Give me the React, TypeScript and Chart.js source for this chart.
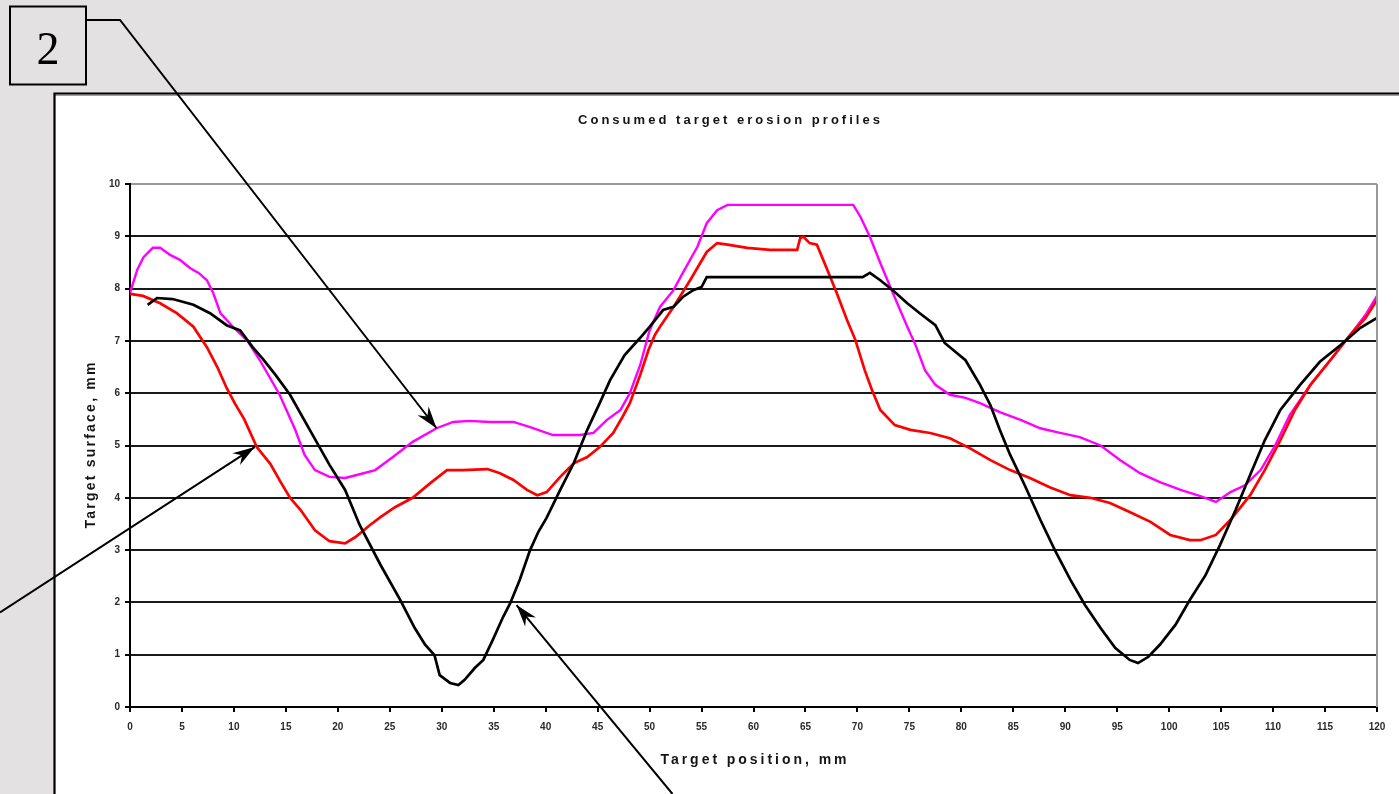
import React, { useEffect, useRef } from "react";
import { Chart, registerables } from "chart.js";

Chart.register(...registerables);

// ---------- data ----------
const chartTitle = "Consumed target erosion profiles";
const xAxisTitle = "Target position, mm";
const yAxisTitle = "Target surface, mm";
const calloutLabel = "2";

const xMin = 0;
const xMax = 120;
const xStep = 5;
const yMin = 0;
const yMax = 10;
const yStep = 1;

const magentaX = [0, 0.7, 1.3, 2.2, 2.9, 3.9, 4.8, 5.8, 6.6, 7.4, 8, 8.7, 9.9, 11.3, 12.5, 14.4, 15.9, 16.8, 17.8, 19.2, 20.7, 22.1, 23.6, 25.3, 27.2, 29.5, 31.1, 32.7, 34.6, 36.9, 38.5, 40.7, 43.3, 44.6, 45.9, 47.2, 48.1, 49.1, 50, 51, 52.3, 53.2, 54.6, 55.5, 56.5, 57.5, 69.6, 70.3, 71.2, 72.2, 73.4, 74.8, 75.6, 76.5, 77.5, 78.9, 80.4, 81.8, 83.7, 85.7, 87.6, 89.5, 91.4, 93.4, 95.3, 97.2, 99.1, 101.1, 103, 104.5, 105.9, 107.3, 108.8, 110.2, 111.6, 113.6, 115.5, 117.4, 118.9, 120];
const magentaY = [7.92, 8.36, 8.6, 8.78, 8.78, 8.64, 8.55, 8.39, 8.3, 8.16, 7.92, 7.53, 7.27, 7.0, 6.63, 5.97, 5.3, 4.82, 4.53, 4.4, 4.38, 4.45, 4.53, 4.78, 5.07, 5.33, 5.45, 5.47, 5.45, 5.45, 5.35, 5.2, 5.2, 5.24, 5.49, 5.68, 6.0, 6.54, 7.2, 7.65, 7.97, 8.3, 8.8, 9.25, 9.5, 9.6, 9.6, 9.37, 8.99, 8.49, 7.92, 7.27, 6.92, 6.44, 6.16, 5.97, 5.91, 5.81, 5.64, 5.49, 5.33, 5.24, 5.16, 5.0, 4.72, 4.47, 4.3, 4.15, 4.03, 3.92, 4.11, 4.24, 4.53, 5.0, 5.58, 6.16, 6.63, 7.11, 7.5, 7.86];

const redX = [0, 1.25, 2.9, 4.5, 6.1, 7.4, 8.4, 9.3, 10.1, 11, 12.2, 13.5, 14.5, 15.4, 16.4, 17.8, 19.2, 20.7, 21.7, 23.1, 24.1, 25.5, 27.2, 28.9, 30.5, 32, 34.4, 35.6, 36.9, 38.2, 39.2, 40.1, 41.4, 42.7, 44, 45.2, 46.5, 47.4, 48.1, 49.1, 49.9, 50.5, 51, 52.3, 53.9, 55.5, 56.5, 57.5, 59.4, 61.6, 64.2, 64.5, 64.8, 65.4, 66.1, 67.1, 68, 69, 69.8, 70.7, 71.4, 72.2, 73.6, 75.1, 77, 78.9, 80.8, 82.8, 84.7, 86.6, 88.5, 90.5, 92.4, 94.3, 96.2, 98.2, 100.1, 102, 103, 104.5, 105.9, 107.8, 109.2, 110.7, 112.1, 113.6, 115.5, 117.4, 118.9, 120];
const redY = [7.9, 7.86, 7.72, 7.53, 7.27, 6.88, 6.5, 6.1, 5.8, 5.5, 4.97, 4.65, 4.3, 4.0, 3.77, 3.38, 3.17, 3.13, 3.25, 3.48, 3.63, 3.82, 4.0, 4.28, 4.53, 4.53, 4.55, 4.47, 4.34, 4.15, 4.05, 4.11, 4.4, 4.66, 4.78, 4.97, 5.24, 5.55, 5.81, 6.35, 6.83, 7.11, 7.27, 7.65, 8.16, 8.7, 8.87, 8.84, 8.78, 8.74, 8.74, 8.97, 8.99, 8.87, 8.84, 8.36, 7.92, 7.4, 7.02, 6.44, 6.06, 5.68, 5.39, 5.3, 5.24, 5.14, 4.95, 4.72, 4.53, 4.38, 4.2, 4.05, 4.0, 3.9, 3.73, 3.54, 3.29, 3.19, 3.19, 3.29, 3.58, 4.05, 4.53, 5.1, 5.68, 6.16, 6.63, 7.11, 7.44, 7.78];

const blackX = [1.7, 2.6, 4.1, 6.1, 7.7, 9.3, 10.6, 11.8, 12.8, 14, 15.4, 17.3, 19.2, 20.7, 22.1, 24.1, 26, 27.4, 28.4, 29.3, 29.8, 30.8, 31.6, 32.2, 33.2, 34, 34.9, 35.9, 36.6, 37.5, 38.5, 39.3, 40.1, 41.4, 42.7, 44, 45.2, 46.2, 47.6, 49.1, 50, 51.3, 52.3, 53.2, 54.2, 55, 55.5, 61.9, 70.5, 71.2, 72.2, 73.4, 74.8, 76, 77.5, 78.4, 80.4, 81.8, 82.8, 83.7, 84.7, 86.1, 87.6, 89, 90.5, 91.9, 93.4, 94.8, 96.2, 97, 98, 99.1, 100.6, 102, 103.5, 104.9, 106.4, 107.8, 109.2, 110.7, 112.6, 114.5, 116.5, 118.4, 120];
const blackY = [7.69, 7.82, 7.8, 7.69, 7.53, 7.3, 7.2, 6.88, 6.65, 6.35, 5.97, 5.3, 4.63, 4.15, 3.48, 2.72, 2.05, 1.51, 1.19, 0.99, 0.61, 0.46, 0.42, 0.52, 0.75, 0.9, 1.28, 1.72, 1.99, 2.43, 3.0, 3.35, 3.62, 4.15, 4.66, 5.3, 5.81, 6.25, 6.73, 7.06, 7.27, 7.59, 7.65, 7.84, 7.97, 8.03, 8.22, 8.22, 8.22, 8.3, 8.16, 7.97, 7.72, 7.53, 7.3, 6.96, 6.63, 6.16, 5.77, 5.3, 4.82, 4.24, 3.58, 3.0, 2.43, 1.95, 1.51, 1.13, 0.9, 0.84, 0.96, 1.19, 1.57, 2.05, 2.52, 3.1, 3.77, 4.44, 5.1, 5.68, 6.16, 6.6, 6.92, 7.25, 7.44];

// arrow tips (data coordinates) for the three call-out arrows
const arrowTipX = [29.5, 12.0, 37.2];
const arrowTipY = [5.33, 4.97, 1.95];

// ---------- helpers ----------
const toPoints = (xs: number[], ys: number[]) => xs.map((x, i) => ({ x, y: ys[i] }));

function spacedText(
  ctx: CanvasRenderingContext2D,
  text: string,
  cx: number,
  baselineY: number,
  targetWidth: number
) {
  const c: any = ctx;
  c.letterSpacing = "0px";
  const w = ctx.measureText(text).width;
  const n = text.length;
  const s = n > 1 ? (targetWidth - w) / (n - 1) : 0;
  c.letterSpacing = s + "px";
  ctx.textAlign = "left";
  ctx.textBaseline = "alphabetic";
  ctx.fillText(text, cx - targetWidth / 2, baselineY);
  c.letterSpacing = "0px";
}

function arrowHead(ctx: CanvasRenderingContext2D, tipX: number, tipY: number, fromX: number, fromY: number) {
  const ang = Math.atan2(tipY - fromY, tipX - fromX);
  const L = 22;
  const W = 7;
  const N = 15;
  ctx.save();
  ctx.translate(tipX, tipY);
  ctx.rotate(ang);
  ctx.beginPath();
  ctx.moveTo(0, 0);
  ctx.lineTo(-L, -W);
  ctx.lineTo(-N, 0);
  ctx.lineTo(-L, W);
  ctx.closePath();
  ctx.fill();
  ctx.restore();
}

const decorPlugin = {
  id: "decor",
  beforeDraw(chart: any) {
    const ctx: CanvasRenderingContext2D = chart.ctx;
    const { width, height } = chart;
    ctx.save();
    ctx.fillStyle = "#e4e1e2";
    ctx.fillRect(0, 0, width, height);
    ctx.fillStyle = "#ffffff";
    ctx.fillRect(54, 93, width - 54, height - 93);
    ctx.strokeStyle = "#a0a0a0";
    ctx.lineWidth = 1.5;
    ctx.beginPath();
    ctx.moveTo(55, 95.3);
    ctx.lineTo(width, 95.3);
    ctx.stroke();
    ctx.strokeStyle = "#000000";
    ctx.lineWidth = 2.2;
    ctx.beginPath();
    ctx.moveTo(54.5, height);
    ctx.lineTo(54.5, 93.5);
    ctx.lineTo(width, 93.5);
    ctx.stroke();
    ctx.restore();
  },
  afterDraw(chart: any) {
    const ctx: CanvasRenderingContext2D = chart.ctx;
    const area = chart.chartArea;
    const xs = chart.scales.x;
    const ys = chart.scales.y;
    ctx.save();

    // plot frame (right side, grey)
    ctx.strokeStyle = "#9a9a9a";
    ctx.lineWidth = 2;
    ctx.beginPath();
    ctx.moveTo(area.right, area.top);
    ctx.lineTo(area.right, area.bottom);
    ctx.stroke();

    // titles
    ctx.fillStyle = "#141414";
    ctx.font = 'bold 13px "Liberation Sans", Arial, sans-serif';
    spacedText(ctx, chartTitle, 729, 124, 302);

    ctx.font = 'bold 14px "Liberation Sans", Arial, sans-serif';
    spacedText(ctx, xAxisTitle, (area.left + area.right) / 2, 764, 186);

    ctx.save();
    ctx.translate(95, (area.top + area.bottom) / 2);
    ctx.rotate(-Math.PI / 2);
    spacedText(ctx, yAxisTitle, 0, 0, 166);
    ctx.restore();

    // call-out box
    ctx.strokeStyle = "#000";
    ctx.lineWidth = 2;
    ctx.strokeRect(10, 6.5, 76, 78);
    ctx.fillStyle = "#000";
    ctx.font = '46px "Liberation Serif", "Times New Roman", serif';
    ctx.textAlign = "center";
    ctx.textBaseline = "alphabetic";
    ctx.fillText(calloutLabel, 48, 63.5);

    // arrows
    const tips = arrowTipX.map((v, i) => ({
      x: xs.getPixelForValue(v),
      y: ys.getPixelForValue(arrowTipY[i]),
    }));
    ctx.lineWidth = 2;
    ctx.strokeStyle = "#000";
    ctx.fillStyle = "#000";

    // arrow 1 : from the call-out box
    ctx.beginPath();
    ctx.moveTo(87, 20);
    ctx.lineTo(120, 20);
    ctx.lineTo(tips[0].x, tips[0].y);
    ctx.stroke();
    arrowHead(ctx, tips[0].x, tips[0].y, 120, 20);

    // arrow 2 : from the left edge
    ctx.beginPath();
    ctx.moveTo(0, 612.5);
    ctx.lineTo(tips[1].x, tips[1].y);
    ctx.stroke();
    arrowHead(ctx, tips[1].x, tips[1].y, 0, 612.5);

    // arrow 3 : from the bottom edge
    ctx.beginPath();
    ctx.moveTo(672.5, 794);
    ctx.lineTo(tips[2].x, tips[2].y);
    ctx.stroke();
    arrowHead(ctx, tips[2].x, tips[2].y, 672.5, 794);

    ctx.restore();
  },
};

export default function App() {
  const canvasRef = useRef<HTMLCanvasElement | null>(null);

  useEffect(() => {
    const canvas = canvasRef.current;
    if (!canvas) return;
    const tickFont = { family: '"Liberation Sans", Arial, sans-serif', size: 10, weight: "bold" as const };
    const chart = new Chart(canvas, {
      type: "line",
      data: {
        datasets: [
          {
            label: "black",
            data: toPoints(blackX, blackY),
            borderColor: "#000000",
            borderWidth: 2.7,
            pointRadius: 0,
            tension: 0,
            fill: false,
          },
          {
            label: "red",
            data: toPoints(redX, redY),
            borderColor: "#ff0000",
            borderWidth: 2.7,
            pointRadius: 0,
            tension: 0,
            fill: false,
          },
          {
            label: "magenta",
            data: toPoints(magentaX, magentaY),
            borderColor: "#ff00ff",
            borderWidth: 2.4,
            pointRadius: 0,
            tension: 0,
            fill: false,
          },
        ],
      },
      options: {
        responsive: false,
        animation: false,
        devicePixelRatio: 1,
        layout: { padding: { top: 184, right: 22, bottom: 0, left: 0 } },
        plugins: {
          legend: { display: false },
          tooltip: { enabled: false },
          title: { display: false },
        },
        scales: {
          x: {
            type: "linear",
            min: xMin,
            max: xMax,
            afterFit: (scale: any) => {
              scale.height = 87;
            },
            ticks: {
              stepSize: xStep,
              autoSkip: false,
              maxRotation: 0,
              padding: 9,
              color: "#2a2a2a",
              font: tickFont,
            },
            grid: {
              drawOnChartArea: false,
              drawTicks: true,
              tickLength: 5,
              color: "#000",
              lineWidth: 2,
            },
            border: { color: "#000", width: 2 },
          },
          y: {
            type: "linear",
            min: yMin,
            max: yMax,
            afterFit: (scale: any) => {
              scale.width = 130;
            },
            ticks: {
              stepSize: yStep,
              padding: 5,
              color: "#2a2a2a",
              font: tickFont,
            },
            grid: {
              color: (c: any) => (c.tick && c.tick.value === yMax ? "#9a9a9a" : "#1a1a1a"),
              lineWidth: 2,
              tickLength: 5,
              tickColor: "#000",
            },
            border: { color: "#000", width: 2 },
          },
        },
      },
      plugins: [decorPlugin],
    });
    return () => chart.destroy();
  }, []);

  return (
    <div style={{ position: "fixed", left: 0, top: 0, width: 1399, height: 794, overflow: "hidden" }}>
      <canvas ref={canvasRef} width={1399} height={794} style={{ display: "block", width: 1399, height: 794 }} />
    </div>
  );
}
